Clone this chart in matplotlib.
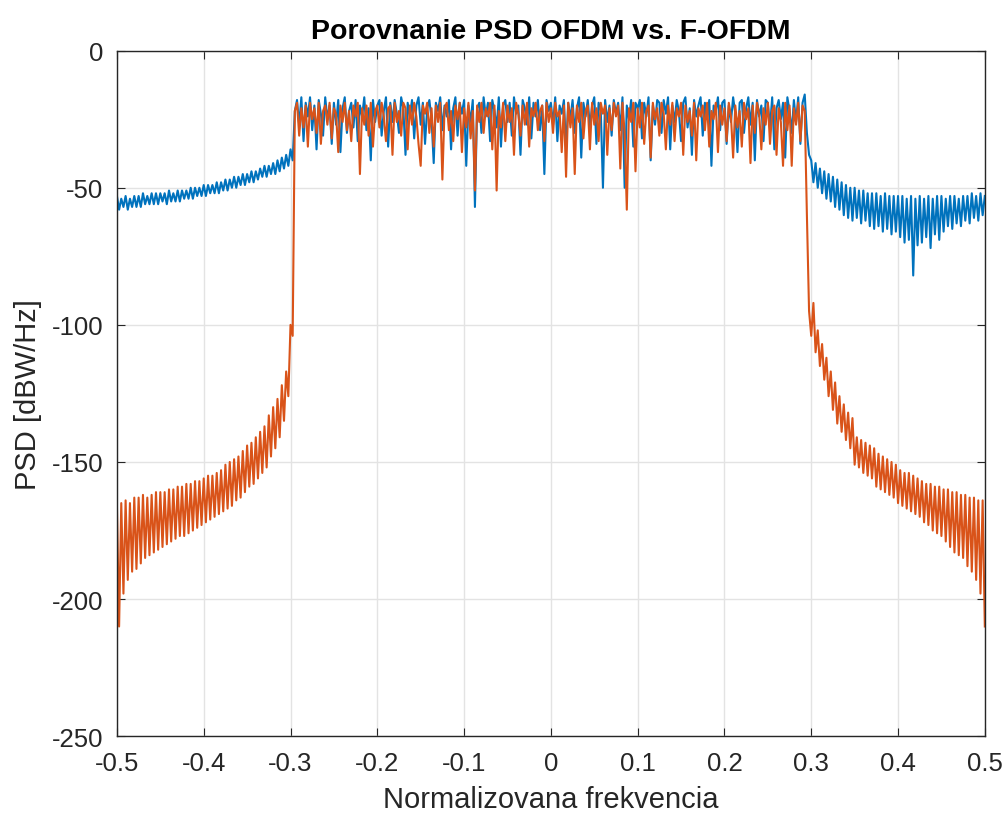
import numpy as np
import matplotlib.pyplot as plt

plt.rcParams['font.family'] = ['Liberation Sans', 'DejaVu Sans']
plt.rcParams['axes.unicode_minus'] = False

# === DATA (step 0.0025) ===
freq = np.linspace(-0.5, 0.5, 401)

psd_ofdm = [
    -53, -58, -54, -57, -53, -58, -54, -57, -53, -57,   # -0.500
    -53, -57, -52, -56, -53, -56, -52, -56, -52, -56,   # -0.475
    -52, -55, -52, -56, -51, -55, -52, -55, -51, -55,   # -0.450
    -51, -54, -51, -54, -50, -54, -50, -53, -50, -53,   # -0.425
    -49, -53, -49, -52, -49, -52, -48, -52, -48, -51,   # -0.400
    -47, -51, -47, -50, -46, -50, -46, -49, -45, -49,   # -0.375
    -45, -48, -44, -48, -44, -47, -43, -46, -42, -46,   # -0.350
    -42, -45, -41, -45, -40, -44, -39, -43, -38, -42,   # -0.325
    -36, -40, -22, -18, -27, -17, -33, -19, -24, -17,   # -0.300
    -29, -20, -36, -18, -23, -31, -17, -25, -20, -34,   # -0.275
    -19, -27, -18, -37, -21, -17, -30, -22, -19, -28,   # -0.250
    -18, -33, -20, -24, -17, -29, -21, -40, -18, -26,   # -0.225
    -20, -18, -31, -22, -17, -35, -19, -26, -18, -23,   # -0.200
    -30, -17, -21, -38, -19, -24, -18, -32, -20, -17,   # -0.175
    -27, -19, -34, -21, -18, -25, -41, -19, -22, -17,   # -0.150
    -29, -20, -24, -18, -36, -21, -17, -31, -19, -23,   # -0.125
    -18, -42, -20, -26, -18, -57, -21, -19, -30, -17,   # -0.100
    -24, -19, -33, -18, -22, -28, -17, -35, -20, -18,   # -0.075
    -26, -19, -31, -17, -23, -20, -38, -18, -21, -27,   # -0.050
    -17, -32, -19, -24, -18, -29, -20, -45, -18, -22,   # -0.025
    -19, -27, -17, -33, -20, -23, -18, -36, -19, -25,   # 0.000
    -18, -30, -21, -17, -39, -19, -24, -18, -28, -20,   # 0.025
    -17, -34, -19, -22, -50, -18, -26, -20, -31, -18,   # 0.050
    -23, -19, -29, -17, -50, -20, -25, -18, -35, -19,   # 0.075
    -21, -18, -32, -19, -24, -17, -40, -20, -27, -18,   # 0.100
    -19, -30, -18, -23, -17, -36, -20, -26, -18, -22,   # 0.125
    -33, -19, -17, -28, -21, -38, -18, -24, -20, -17,   # 0.150
    -31, -19, -25, -18, -42, -20, -22, -17, -29, -19,   # 0.175
    -18, -34, -20, -26, -17, -23, -37, -19, -18, -30,   # 0.200
    -21, -17, -27, -19, -40, -18, -24, -20, -33, -18,   # 0.225
    -19, -28, -17, -36, -21, -18, -25, -19, -39, -17,   # 0.250
    -22, -30, -18, -26, -17, -34, -19, -16, -30, -38,   # 0.275
    -40, -48, -41, -50, -43, -52, -44, -54, -45, -55,   # 0.300
    -46, -57, -47, -58, -48, -60, -49, -61, -50, -62,   # 0.325
    -50, -61, -51, -63, -51, -62, -52, -64, -52, -65,   # 0.350
    -52, -64, -53, -66, -52, -65, -53, -67, -53, -66,   # 0.375
    -53, -68, -53, -70, -54, -69, -53, -82, -54, -71,   # 0.400
    -53, -70, -54, -68, -53, -72, -54, -67, -53, -69,   # 0.425
    -53, -66, -54, -64, -53, -65, -53, -63, -54, -64,   # 0.450
    -53, -62, -53, -63, -52, -61, -53, -62, -52, -60,   # 0.475
    -53,                                                # 0.500
]

psd_fofdm = [
    -166, -210, -165, -198, -164, -193, -165, -190, -163, -189,   # -0.500
    -163, -187, -162, -185, -163, -184, -162, -183, -161, -182,   # -0.475
    -161, -181, -161, -180, -160, -179, -160, -178, -159, -177,   # -0.450
    -159, -177, -158, -176, -158, -175, -157, -174, -157, -173,   # -0.425
    -156, -172, -155, -171, -155, -170, -154, -169, -153, -168,   # -0.400
    -151, -167, -150, -166, -149, -164, -148, -163, -146, -161,   # -0.375
    -144, -159, -143, -158, -141, -156, -139, -154, -137, -152,   # -0.350
    -133, -148, -130, -145, -127, -141, -122, -135, -117, -126,   # -0.325
    -100, -104, -22, -19, -31, -21, -28, -20, -35, -19,           # -0.300
    -25, -21, -30, -19, -34, -22, -20, -27, -19, -32,             # -0.275
    -21, -23, -37, -20, -26, -19, -29, -22, -33, -20,             # -0.250
    -24, -19, -45, -21, -27, -20, -31, -19, -35, -22,             # -0.225
    -20, -28, -19, -24, -33, -21, -20, -38, -19, -26,             # -0.200
    -22, -31, -19, -21, -36, -20, -27, -19, -24, -34,             # -0.175
    -42, -20, -23, -19, -30, -21, -35, -20, -26, -19,             # -0.150
    -47, -21, -19, -29, -22, -33, -20, -25, -19, -37,             # -0.125
    -21, -28, -19, -32, -22, -51, -20, -26, -19, -30,             # -0.100
    -21, -24, -19, -36, -20, -51, -22, -28, -19, -33,             # -0.075
    -20, -26, -21, -38, -19, -23, -31, -20, -27, -19,             # -0.050
    -35, -21, -24, -19, -29, -22, -20, -33, -19, -26,             # -0.025
    -21, -30, -19, -24, -22, -37, -20, -46, -19, -28,             # 0.000
    -21, -45, -20, -26, -19, -32, -22, -20, -36, -19,             # 0.025
    -27, -21, -33, -19, -23, -20, -38, -21, -29, -19,             # 0.050
    -24, -20, -43, -19, -30, -58, -21, -26, -19, -44,             # 0.075
    -21, -28, -19, -34, -22, -20, -39, -19, -25, -21,             # 0.100
    -31, -19, -23, -36, -20, -27, -19, -33, -21, -24,             # 0.125
    -19, -38, -20, -26, -22, -31, -19, -40, -21, -24,             # 0.150
    -20, -29, -19, -35, -22, -25, -19, -37, -20, -27,             # 0.175
    -21, -33, -19, -24, -39, -20, -28, -22, -35, -19,             # 0.200
    -25, -21, -41, -20, -30, -19, -23, -36, -21, -27,             # 0.225
    -19, -34, -22, -20, -38, -21, -26, -42, -19, -29,             # 0.250
    -20, -42, -21, -27, -19, -33, -20, -22, -60, -95,             # 0.275
    -104, -92, -110, -102, -115, -107, -120, -112, -126, -117,    # 0.300
    -131, -121, -136, -126, -139, -129, -142, -132, -145, -134,   # 0.325
    -151, -141, -152, -142, -154, -143, -155, -144, -156, -145,   # 0.350
    -159, -147, -160, -148, -161, -149, -162, -150, -163, -151,   # 0.375
    -165, -153, -166, -154, -167, -154, -168, -155, -169, -156,   # 0.400
    -170, -157, -172, -158, -173, -158, -175, -159, -176, -159,   # 0.425
    -177, -160, -179, -160, -181, -161, -183, -161, -184, -162,   # 0.450
    -185, -162, -188, -163, -190, -163, -193, -164, -198, -164,   # 0.475
    -210,                                                         # 0.500
]

x_ticks = [-0.5, -0.4, -0.3, -0.2, -0.1, 0, 0.1, 0.2, 0.3, 0.4, 0.5]
x_ticklabels = ['-0.5', '-0.4', '-0.3', '-0.2', '-0.1', '0', '0.1', '0.2', '0.3', '0.4', '0.5']
y_ticks = [-250, -200, -150, -100, -50, 0]

# --- Graf ---
fig = plt.figure(figsize=(10.08, 8.2), dpi=100)
ax = fig.add_axes([0.116, 0.101, 0.861, 0.836])

ax.plot(freq, psd_ofdm, color='#0072BD', linewidth=1.5)
ax.plot(freq, psd_fofdm, color='#D95319', linewidth=1.5)

ax.set_xlim(-0.5, 0.5)
ax.set_ylim(-250, 0)
ax.set_xticks(x_ticks)
ax.set_xticklabels(x_ticklabels)
ax.set_yticks(y_ticks)

ax.grid(True, color='#e3e3e3', linewidth=1)
ax.set_axisbelow(True)
ax.tick_params(direction='in', top=True, right=True, length=6,
               labelsize=18.5, colors='#262626')
ax.tick_params(axis='x', pad=11)
ax.tick_params(axis='y', pad=10)
for s in ax.spines.values():
    s.set_color('#262626')
    s.set_linewidth(1)

ax.set_xlabel('Normalizovana frekvencia', fontsize=21, color='#262626', labelpad=7)
ax.set_ylabel('PSD [dBW/Hz]', fontsize=21, color='#262626', labelpad=7)
ax.set_title('Porovnanie PSD OFDM vs. F-OFDM', fontsize=20.5, fontweight='bold', pad=9)

fig.savefig('out.png', dpi=100)
